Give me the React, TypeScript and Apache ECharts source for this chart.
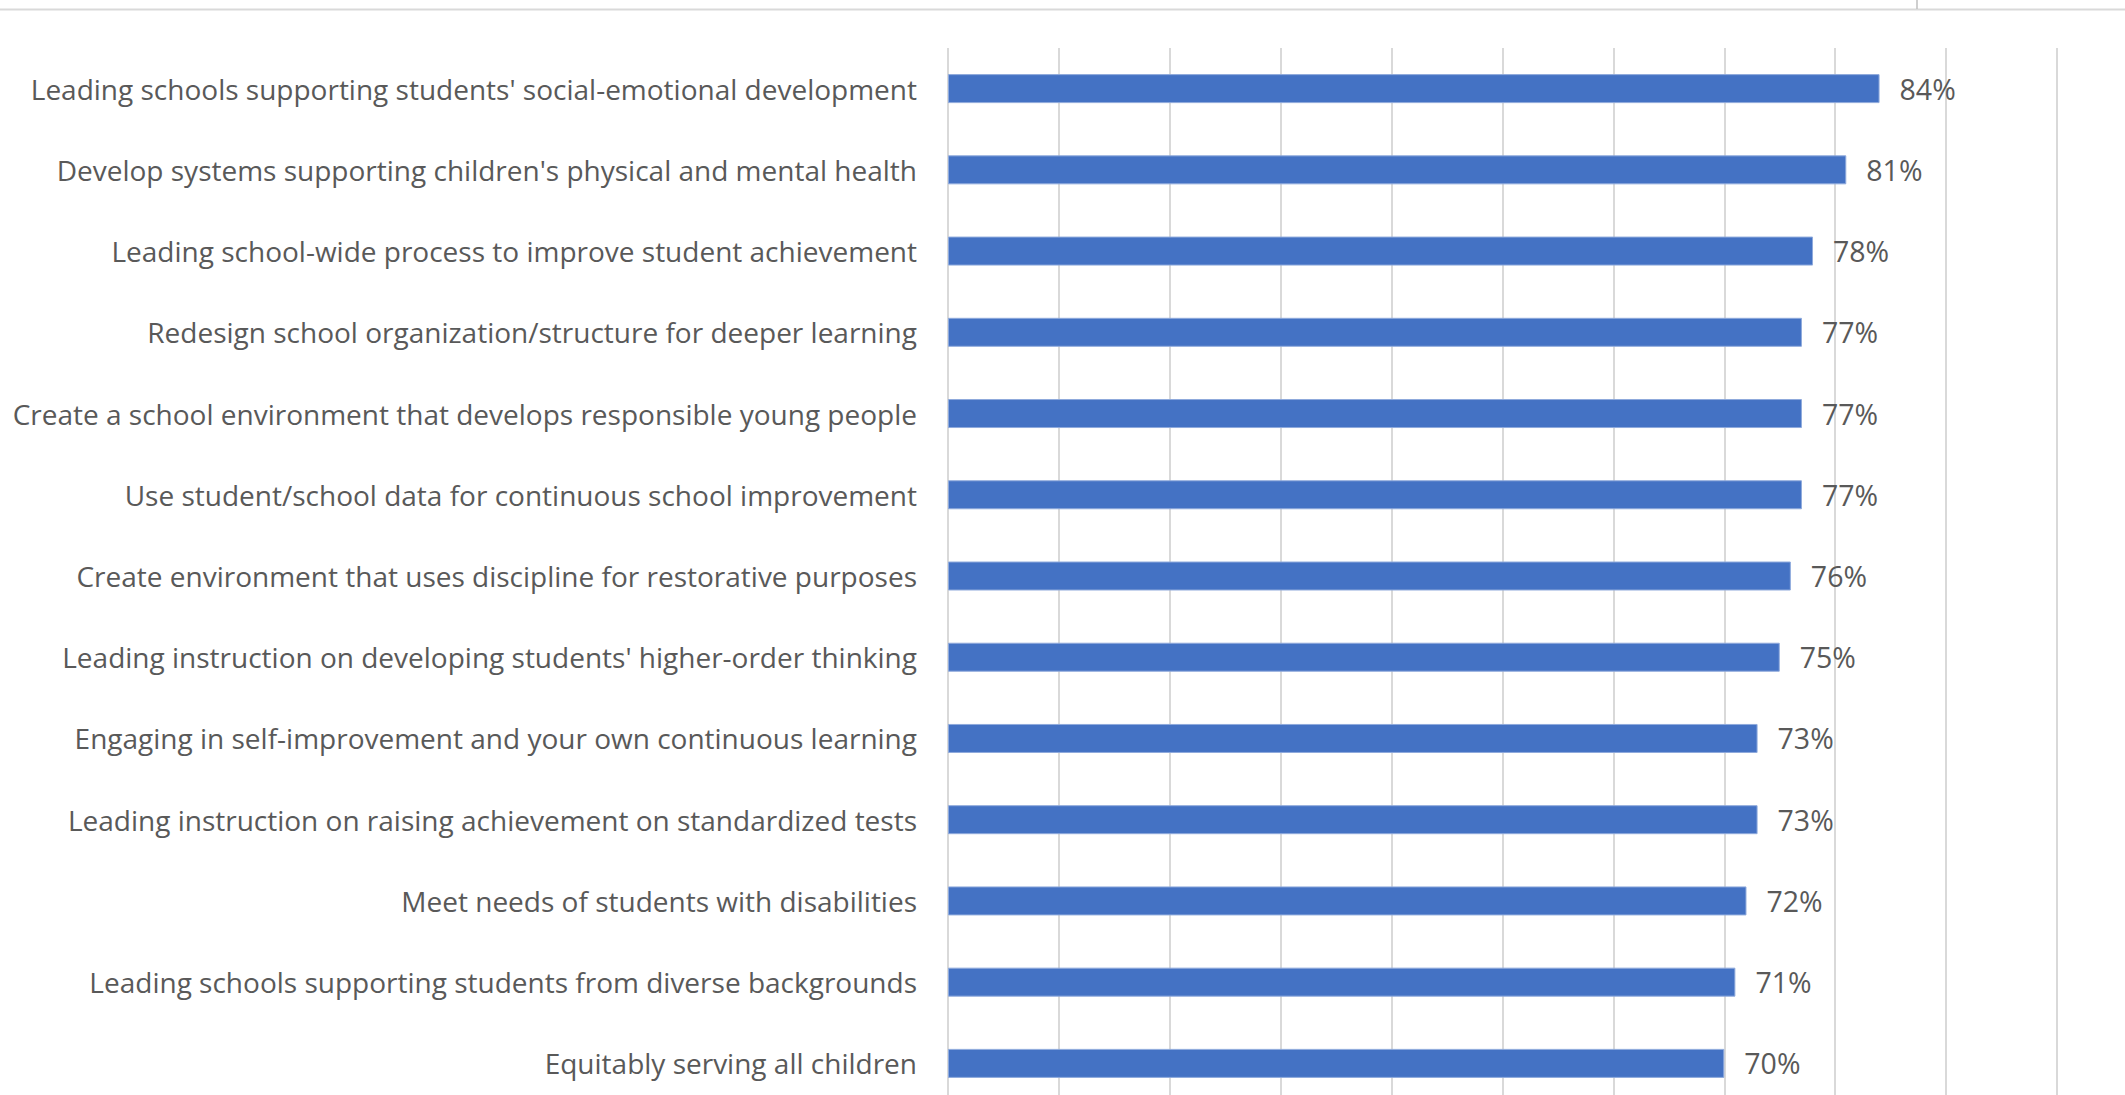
import React, { useEffect, useRef } from "react";
import * as echarts from "echarts";

const categories = [
  "Leading schools supporting students' social-emotional development",
  "Develop systems supporting children's physical and mental health",
  "Leading school-wide process to improve student achievement",
  "Redesign school organization/structure for deeper learning",
  "Create a school environment that develops responsible young people",
  "Use student/school data for continuous school improvement",
  "Create environment that uses discipline for restorative purposes",
  "Leading instruction on developing students' higher-order thinking",
  "Engaging in self-improvement and your own continuous learning",
  "Leading instruction on raising achievement on standardized tests",
  "Meet needs of students with disabilities",
  "Leading schools supporting students from diverse backgrounds",
  "Equitably serving all children",
];

const values = [84, 81, 78, 77, 77, 77, 76, 75, 73, 73, 72, 71, 70];

const FONT = "Open Sans";
const TEXT_COLOR = "#595959";

export default function App() {
  const ref = useRef<HTMLDivElement>(null);

  useEffect(() => {
    if (!ref.current) return;
    const chart = echarts.init(ref.current, undefined, { renderer: "svg" });
    chart.setOption({
      animation: false,
      backgroundColor: "#ffffff",
      grid: { left: 948, right: 68, top: 48, height: 1056, containLabel: false },
      xAxis: {
        type: "value",
        min: 0,
        max: 100,
        interval: 10,
        axisLabel: { show: false },
        axisLine: { show: false },
        axisTick: { show: false },
        splitLine: { show: true, lineStyle: { color: "#d9d9d9", width: 2 } },
      },
      yAxis: {
        type: "category",
        data: categories,
        inverse: true,
        axisLine: { show: false },
        axisTick: { show: false },
        axisLabel: {
          color: TEXT_COLOR,
          fontFamily: FONT,
          fontSize: 28,
          margin: 31,
        },
      },
      series: [
        {
          type: "bar",
          data: values,
          barWidth: 29,
          itemStyle: { color: "#4472C4", borderColor: "#8faadc", borderWidth: 1 },
          label: {
            show: true,
            position: "right",
            distance: 20,
            formatter: "{c}%",
            color: TEXT_COLOR,
            fontFamily: FONT,
            fontSize: 28.5,
          },
        },
      ],
      graphic: [
        {
          type: "line",
          shape: { x1: 0, y1: 9.5, x2: 2125, y2: 9.5 },
          style: { stroke: "#d9d9d9", lineWidth: 2 },
        },
        {
          type: "line",
          shape: { x1: 1917, y1: 0, x2: 1917, y2: 9 },
          style: { stroke: "#bfbfbf", lineWidth: 1.5 },
        },
      ],
    });
    return () => chart.dispose();
  }, []);

  return (
    <div
      style={{
        position: "absolute",
        left: 0,
        top: 0,
        width: 2125,
        height: 1095,
        overflow: "hidden",
        background: "#ffffff",
      }}
    >
      <div ref={ref} style={{ width: 2125, height: 1120 }} />
    </div>
  );
}
